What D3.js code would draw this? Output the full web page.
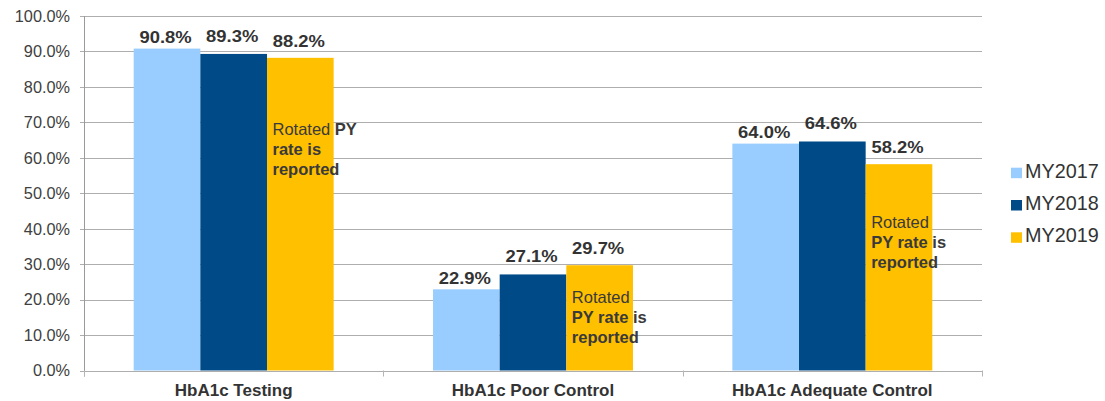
<!DOCTYPE html>
<html>
<head>
<meta charset="utf-8">
<script src="https://cdn.jsdelivr.net/npm/d3@7"></script>
<style>
  html, body { margin: 0; padding: 0; background: #fff; }
  svg { display: block; font-family: "Liberation Sans", Arial, sans-serif; }
</style>
</head>
<body>
<div id="chart"></div>
<script>
// ---- Data ----
const categories = ["HbA1c Testing", "HbA1c Poor Control", "HbA1c Adequate Control"];
const seriesNames = ["MY2017", "MY2018", "MY2019"];
const my2017 = [90.8, 22.9, 64.0];
const my2018 = [89.3, 27.1, 64.6];
const my2019 = [88.2, 29.7, 58.2];
const yTicks = [0, 10, 20, 30, 40, 50, 60, 70, 80, 90, 100];
const noteCategories = ["HbA1c Testing", "HbA1c Poor Control", "HbA1c Adequate Control"];
const noteLines = [
  [[{t: "Rotated ", b: false}, {t: "PY", b: true}], [{t: "rate is", b: true}], [{t: "reported", b: true}]],
  [[{t: "Rotated", b: false}], [{t: "PY rate is", b: true}], [{t: "reported", b: true}]],
  [[{t: "Rotated", b: false}], [{t: "PY rate is", b: true}], [{t: "reported", b: true}]]
];
const noteAnchorValues = [66.4, 18.9, 40.1]; // value (in %) at which the first note line sits

// ---- Styles / layout ----
const colors = ["#99CCFF", "#004B87", "#FFC000"];
const labelOffsets = [5.5, 12, 11];
const W = 1105, H = 401;
const plot = {left: 84, right: 982, top: 16, bottom: 370.5};
const seriesValues = [my2017, my2018, my2019];

const svg = d3.select("#chart").append("svg").attr("width", W).attr("height", H);

const y = d3.scaleLinear().domain([0, 100]).range([plot.bottom, plot.top]);
const x0 = d3.scaleBand().domain(categories).range([plot.left, plot.right])
  .paddingInner(0.332).paddingOuter(0.166);
const x1 = d3.scaleBand().domain(seriesNames).range([0, x0.bandwidth()]).padding(0);

// gridlines
svg.append("g").selectAll("line").data(yTicks).join("line")
  .attr("x1", plot.left - 4).attr("x2", plot.right)
  .attr("y1", d => Math.round(y(d)) + 0.5).attr("y2", d => Math.round(y(d)) + 0.5)
  .attr("stroke", "#AEAEAE").attr("stroke-width", 1);

// y axis line
svg.append("line")
  .attr("x1", plot.left + 0.5).attr("x2", plot.left + 0.5)
  .attr("y1", plot.top).attr("y2", plot.bottom + 6)
  .attr("stroke", "#9A9A9A");

// category boundary ticks
const bounds = d3.range(categories.length + 1).map(i => plot.left + i * (plot.right - plot.left) / categories.length);
svg.append("g").selectAll("line").data(bounds).join("line")
  .attr("x1", d => Math.round(d) + 0.5).attr("x2", d => Math.round(d) + 0.5)
  .attr("y1", plot.bottom).attr("y2", plot.bottom + 6)
  .attr("stroke", "#B5B5B5");

// y tick labels
svg.append("g").selectAll("text").data(yTicks).join("text")
  .attr("x", 70).attr("y", d => y(d)).attr("dy", "0.36em")
  .attr("text-anchor", "end")
  .attr("font-size", 16.3).attr("fill", "#404040")
  .text(d => d3.format(".1f")(d) + "%");

// bars
const groups = svg.append("g").selectAll("g").data(categories).join("g")
  .attr("transform", c => `translate(${x0(c)},0)`);

groups.selectAll("rect")
  .data((c, ci) => seriesNames.map((s, si) => ({s, si, v: seriesValues[si][ci]})))
  .join("rect")
  .attr("x", d => x1(d.s)).attr("width", x1.bandwidth())
  .attr("y", d => y(d.v)).attr("height", d => y(0) - y(d.v))
  .attr("fill", d => colors[d.si]);

// value labels
groups.selectAll("text.val")
  .data((c, ci) => seriesNames.map((s, si) => ({s, si, v: seriesValues[si][ci]})))
  .join("text").attr("class", "val")
  .attr("transform", d => `translate(${x1(d.s) + x1.bandwidth() / 2 - 1.5},${y(d.v) - labelOffsets[d.si]}) scale(1.15,1)`)
  .attr("text-anchor", "middle")
  .attr("font-size", 16).attr("font-weight", "bold").attr("fill", "#333")
  .text(d => d3.format(".1f")(d.v) + "%");

// category labels
svg.append("g").selectAll("text").data(categories).join("text")
  .attr("x", c => x0(c) + x0.bandwidth() / 2)
  .attr("y", 396)
  .attr("text-anchor", "middle")
  .attr("font-size", 17).attr("font-weight", "bold").attr("fill", "#333")
  .text(c => c);

// notes on MY2019 bars
noteCategories.forEach((c, i) => {
  const nx = x0(c) + x1("MY2019") + 5.5;
  const t = svg.append("text")
    .attr("x", nx)
    .attr("y", y(noteAnchorValues[i]))
    .attr("font-size", 16.5).attr("fill", "#3a3a3a");
  noteLines[i].forEach((line, li) => {
    line.forEach((seg, si) => {
      const ts = t.append("tspan").attr("font-weight", seg.b ? "bold" : "normal").text(seg.t);
      if (si === 0) ts.attr("x", nx).attr("dy", li === 0 ? 0 : 20);
    });
  });
});

// legend
const legend = svg.append("g").selectAll("g").data(seriesNames).join("g")
  .attr("transform", (d, i) => `translate(1011, ${177.7 + i * 32.3})`);
legend.append("rect").attr("x", 0).attr("y", -10).attr("width", 11).attr("height", 10.5)
  .attr("fill", (d, i) => colors[i]);
legend.append("text").attr("x", 14).attr("y", 0)
  .attr("font-size", 19.8).attr("fill", "#333")
  .text(d => d);
</script>
</body>
</html>
